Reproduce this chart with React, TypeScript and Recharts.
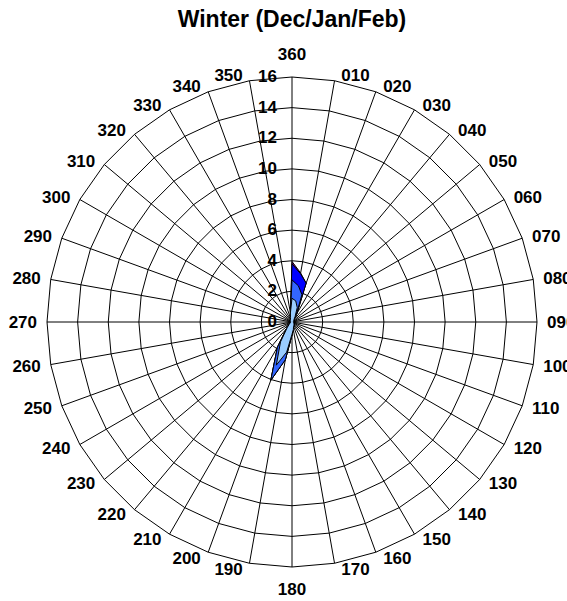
import React from 'react';
import { RadarChart, Radar, PolarGrid, PolarAngleAxis, PolarRadiusAxis } from 'recharts';

// wind directions, clockwise from north
const directions = [
  '360', '010', '020', '030', '040', '050', '060', '070', '080', '090', '100', '110',
  '120', '130', '140', '150', '160', '170', '180', '190', '200', '210', '220', '230',
  '240', '250', '260', '270', '280', '290', '300', '310', '320', '330', '340', '350',
];

// frequency (%) per speed class, one value per direction
const speedLow = [
  1.55, 1.4, 1.0, 0.4, 0.2, 0.15, 0.1, 0.1, 0.1, 0.1, 0.1, 0.1,
  0.15, 0.15, 0.2, 0.25, 0.3, 0.5, 0.8, 2.0, 3.0, 1.5, 0.5, 0.25,
  0.15, 0.1, 0.1, 0.1, 0.1, 0.1, 0.1, 0.15, 0.15, 0.2, 0.3, 0.6,
];
const speedMid = [
  1.2, 1.0, 0.9, 0.15, 0, 0, 0, 0, 0, 0, 0, 0,
  0, 0, 0, 0, 0, 0, 0.05, 0.5, 1.05, 0.4, 0.05, 0,
  0, 0, 0, 0, 0, 0, 0, 0, 0, 0, 0, 0,
];
const speedHigh = [
  1.05, 0.8, 0.8, 0.1, 0, 0, 0, 0, 0, 0, 0, 0,
  0, 0, 0, 0, 0, 0, 0, 0, 0, 0, 0, 0,
  0, 0, 0, 0, 0, 0, 0, 0, 0, 0, 0, 0,
];
const speedTop = [
  0.15, 0.05, 0, 0, 0, 0, 0, 0, 0, 0, 0, 0,
  0, 0, 0, 0, 0, 0, 0, 0, 0, 0, 0, 0,
  0, 0, 0, 0, 0, 0, 0, 0, 0, 0, 0, 0,
];

const radiusTicks = [0, 2, 4, 6, 8, 10, 12, 14, 16];

const CX = 292;
const CY = 322;
const R = 245;
const FONT = '"Liberation Sans", Arial, sans-serif';

// stacked totals for each speed class
const data = directions.map((dir, i) => {
  const s1 = speedLow[i];
  const s2 = s1 + speedMid[i];
  const s3 = s2 + speedHigh[i];
  const s4 = s3 + speedTop[i];
  return { dir, s1, s2, s3, s4 };
});

const AngleTick = (props: any) => {
  const angle = props.payload.coordinate; // recharts angle, 90 = north
  const rad = (angle * Math.PI) / 180;
  const sinT = Math.cos(rad); // compass sin
  const cosT = Math.sin(rad); // compass cos
  const ex = CX + R * sinT;
  const ey = CY - R * cosT;
  let x = ex;
  let cyText = ey;
  let anchor: 'start' | 'middle' | 'end' = 'middle';
  if (Math.abs(sinT) < 0.01) {
    cyText = ey + (cosT > 0 ? -23 : 22);
  } else {
    const gap = 6 + 4 * Math.abs(sinT);
    anchor = sinT > 0 ? 'start' : 'end';
    x = ex + (sinT > 0 ? gap : -gap);
    cyText = ey - 6 * cosT;
  }
  return (
    <text x={x} y={cyText + 6} textAnchor={anchor} fontFamily={FONT} fontWeight="bold" fontSize={17} fill="#000">
      {props.payload.value}
    </text>
  );
};

const RadiusTick = (props: any) => (
  <text x={CX - 15} y={props.y + 5} textAnchor="end" fontFamily={FONT} fontWeight="bold" fontSize={17} fill="#000">
    {props.payload.value}
  </text>
);

export default function App() {
  return (
    <div style={{ position: 'absolute', left: 0, top: 0, width: 567, height: 601, background: '#fff' }}>
      <div
        style={{
          position: 'absolute',
          left: 0,
          top: 8,
          width: 584,
          textAlign: 'center',
          fontFamily: FONT,
          fontWeight: 'bold',
          fontSize: 23,
          lineHeight: '23px',
        }}
      >
        Winter (Dec/Jan/Feb)
      </div>
      <RadarChart
        width={567}
        height={601}
        data={data}
        cx={CX}
        cy={CY}
        outerRadius={R}
        margin={{ top: 0, right: 0, bottom: 0, left: 0 }}
      >
        <Radar dataKey="s4" stroke="#000" strokeWidth={1} fill="#800080" fillOpacity={1} isAnimationActive={false} />
        <Radar dataKey="s3" stroke="#000" strokeWidth={1} fill="#0000FF" fillOpacity={1} isAnimationActive={false} />
        <Radar dataKey="s2" stroke="#000" strokeWidth={1} fill="#3366FF" fillOpacity={1} isAnimationActive={false} />
        <Radar dataKey="s1" stroke="#000" strokeWidth={1} fill="#99CCFF" fillOpacity={1} isAnimationActive={false} />
        <PolarGrid gridType="polygon" stroke="#000" strokeWidth={1} strokeOpacity={1} />
        <PolarAngleAxis dataKey="dir" tick={AngleTick} tickLine={false} axisLine={false} />
        <PolarRadiusAxis
          angle={90}
          domain={[0, 16]}
          ticks={radiusTicks}
          tick={RadiusTick}
          tickLine={false}
          axisLine={false}
        />
      </RadarChart>
    </div>
  );
}
